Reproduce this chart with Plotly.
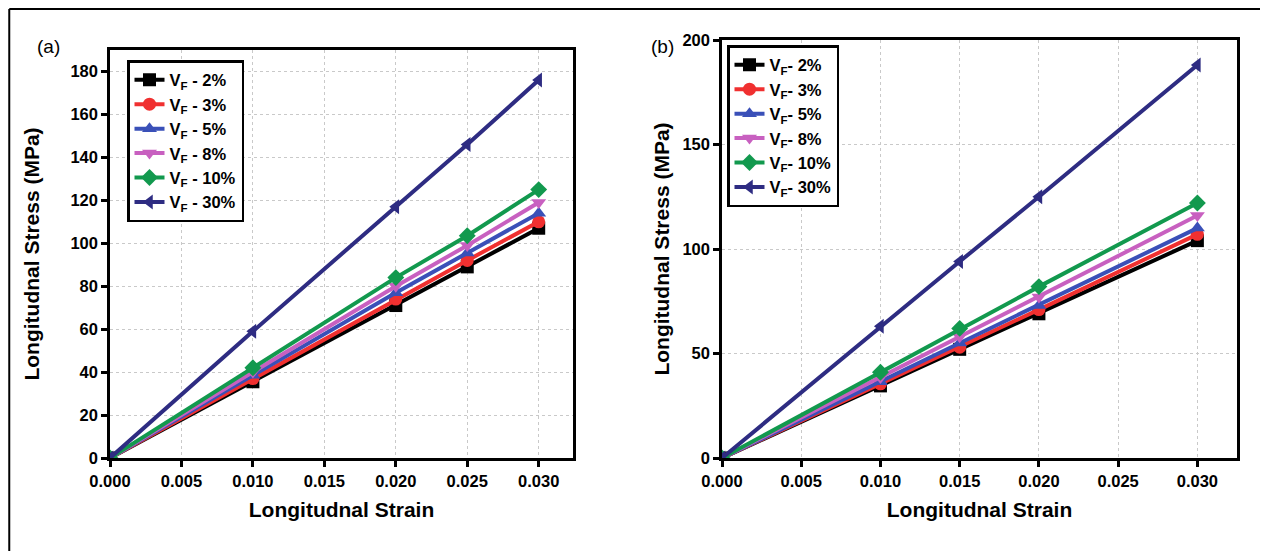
import plotly.graph_objects as go

# ---------------- data ----------------
series_names = ["V<sub>F</sub> - 2%", "V<sub>F</sub> - 3%", "V<sub>F</sub> - 5%",
                "V<sub>F</sub> - 8%", "V<sub>F</sub> - 10%", "V<sub>F</sub> - 30%"]
series_names_b = ["V<sub>F</sub>- 2%", "V<sub>F</sub>- 3%", "V<sub>F</sub>- 5%",
                  "V<sub>F</sub>- 8%", "V<sub>F</sub>- 10%", "V<sub>F</sub>- 30%"]

strain_a = [0.0, 0.010, 0.020, 0.025, 0.030]
stress_a_vf2 = [0, 35.5, 71, 89, 107]
stress_a_vf3 = [0, 37, 74, 92, 110]
stress_a_vf5 = [0, 38.5, 77, 95.5, 114]
stress_a_vf8 = [0, 40, 80, 99, 119]
stress_a_vf10 = [0, 42, 84, 103.5, 125]
stress_a_vf30 = [0, 59, 117, 146, 176]

strain_b = [0.0, 0.010, 0.015, 0.020, 0.030]
stress_b_vf2 = [0, 34.5, 52, 69, 104]
stress_b_vf3 = [0, 35.5, 53, 71, 107]
stress_b_vf5 = [0, 36.5, 55, 73, 110]
stress_b_vf8 = [0, 38.5, 58, 77, 116]
stress_b_vf10 = [0, 41, 62, 82, 122]
stress_b_vf30 = [0, 63, 94, 125, 188]

x_ticks = [0.000, 0.005, 0.010, 0.015, 0.020, 0.025, 0.030]
y_ticks_a = [0, 20, 40, 60, 80, 100, 120, 140, 160, 180]
y_ticks_b = [0, 50, 100, 150, 200]

# ---------------- style ----------------
colors = ["#000000", "#F03030", "#3A50B8", "#C860C0", "#12994E", "#2E2C82"]
symbols = ["square", "circle", "triangle-up", "triangle-down", "diamond", "triangle-left"]
FONT = "Arial, 'Liberation Sans', Helvetica, sans-serif"

OFF = 8  # page body margin
W, H = 1268 - OFF, 551 - OFF

fig = go.Figure()

stress_a = [stress_a_vf2, stress_a_vf3, stress_a_vf5, stress_a_vf8, stress_a_vf10, stress_a_vf30]
stress_b = [stress_b_vf2, stress_b_vf3, stress_b_vf5, stress_b_vf8, stress_b_vf10, stress_b_vf30]

for i in range(6):
    fig.add_trace(go.Scatter(
        x=strain_a, y=stress_a[i], name=series_names[i], mode="lines+markers",
        line=dict(color=colors[i], width=4),
        marker=dict(symbol=symbols[i], size=13, color=colors[i]),
        xaxis="x", yaxis="y", legend="legend"))
for i in range(6):
    fig.add_trace(go.Scatter(
        x=strain_b, y=stress_b[i], name=series_names_b[i], mode="lines+markers",
        line=dict(color=colors[i], width=4),
        marker=dict(symbol=symbols[i], size=13, color=colors[i]),
        xaxis="x2", yaxis="y2", legend="legend2"))

def px_x(p):
    return (p - OFF) / W

def px_y(p):
    return 1 - (p - OFF) / H

axis_common = dict(
    showline=True, linewidth=2.5, linecolor="black", mirror=True,
    ticks="outside", ticklen=6, tickwidth=2.5, tickcolor="black",
    showgrid=True, gridcolor="#c9c9c9", griddash="dot", gridwidth=1,
    zeroline=False, automargin=False,
    tickfont=dict(family=FONT, size=16.5, color="black", weight="bold"),
)
title_font = dict(family=FONT, size=21, color="black", weight="bold")
legend_font = dict(family=FONT, size=16.5, color="black", weight="bold")

fig.update_layout(
    width=W, height=H,
    margin=dict(l=0, r=0, t=0, b=0, pad=0, autoexpand=False),
    paper_bgcolor="white", plot_bgcolor="white",
    font=dict(family=FONT, color="black"),
    xaxis=dict(domain=[px_x(110), px_x(573)], range=[0, 0.0324],
               tickvals=x_ticks, tickformat=".3f", anchor="y",
               title=dict(text="Longitudnal Strain", standoff=14, font=title_font),
               **axis_common),
    yaxis=dict(domain=[px_y(458), px_y(50)], range=[0, 190],
               tickvals=y_ticks_a, anchor="x",
               title=dict(text="Longitudnal Stress (MPa)", standoff=26, font=title_font),
               **axis_common),
    xaxis2=dict(domain=[px_x(722), px_x(1237)], range=[0, 0.0325],
                tickvals=x_ticks, tickformat=".3f", anchor="y2",
                title=dict(text="Longitudnal Strain", standoff=14, font=title_font),
                **axis_common),
    yaxis2=dict(domain=[px_y(458), px_y(40)], range=[0, 200],
                tickvals=y_ticks_b, anchor="x2",
                title=dict(text="Longitudnal Stress (MPa)", standoff=8, font=title_font),
                **axis_common),
    legend=dict(x=px_x(127), y=px_y(60), xanchor="left", yanchor="top",
                bgcolor="white", bordercolor="black", borderwidth=2.5,
                font=legend_font, itemwidth=30, tracegroupgap=0),
    legend2=dict(x=px_x(727), y=px_y(45), xanchor="left", yanchor="top",
                 bgcolor="white", bordercolor="black", borderwidth=2.5,
                 font=legend_font, itemwidth=30, tracegroupgap=0),
    showlegend=True,
    annotations=[
        dict(text="(a)", x=px_x(48), y=px_y(46), xref="paper", yref="paper",
             xanchor="center", yanchor="middle",
             showarrow=False, font=dict(family=FONT, size=19, color="black")),
        dict(text="(b)", x=px_x(662), y=px_y(46), xref="paper", yref="paper",
             xanchor="center", yanchor="middle",
             showarrow=False, font=dict(family=FONT, size=19, color="black")),
    ],
    shapes=[
        dict(type="line", xref="paper", yref="paper", x0=0.001, x1=px_x(1263),
             y0=0.998, y1=0.998, line=dict(color="black", width=2)),
        dict(type="line", xref="paper", yref="paper", x0=0.001, x1=0.001,
             y0=0.998, y1=0, line=dict(color="black", width=2)),
        dict(type="line", xref="paper", yref="paper", x0=px_x(1263), x1=px_x(1263),
             y0=0.998, y1=0, line=dict(color="black", width=2)),
    ],
)

fig.write_html("out.html")
